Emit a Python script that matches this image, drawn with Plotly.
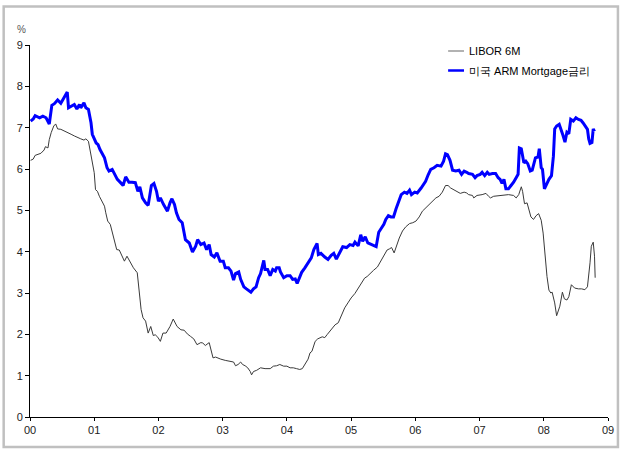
import plotly.graph_objects as go

# Time axis in decimal years
arm_t = [
    2000.01, 2000.05, 2000.08, 2000.15, 2000.20, 2000.25, 2000.30, 2000.34, 2000.38, 2000.43,
    2000.48, 2000.53, 2000.58, 2000.60, 2000.64, 2000.69, 2000.73, 2000.77, 2000.79, 2000.84,
    2000.87, 2000.91, 2000.95, 2000.97, 2001.03, 2001.06, 2001.09, 2001.13, 2001.16, 2001.20,
    2001.23, 2001.28, 2001.32, 2001.36, 2001.41, 2001.45, 2001.49, 2001.54, 2001.59, 2001.64,
    2001.68, 2001.71, 2001.75, 2001.80, 2001.84, 2001.89, 2001.93, 2001.97, 2002.00, 2002.03,
    2002.08, 2002.14, 2002.18, 2002.21, 2002.25, 2002.28, 2002.32, 2002.37, 2002.42, 2002.48,
    2002.53, 2002.58, 2002.61, 2002.66, 2002.71, 2002.75, 2002.79, 2002.82, 2002.87, 2002.91,
    2002.96, 2003.01, 2003.04, 2003.09, 2003.13, 2003.17, 2003.20, 2003.25, 2003.28, 2003.33,
    2003.37, 2003.40, 2003.44, 2003.48, 2003.52, 2003.56, 2003.59, 2003.64, 2003.66, 2003.70,
    2003.74, 2003.78, 2003.82, 2003.84, 2003.88, 2003.90, 2003.95, 2004.00, 2004.05, 2004.09,
    2004.13, 2004.16, 2004.19, 2004.23, 2004.28, 2004.33, 2004.38, 2004.42, 2004.47, 2004.49,
    2004.53, 2004.59, 2004.64, 2004.69, 2004.73, 2004.77, 2004.82, 2004.87, 2004.93, 2004.98,
    2005.03, 2005.06, 2005.11, 2005.15, 2005.18, 2005.22, 2005.26, 2005.31, 2005.35, 2005.39,
    2005.43, 2005.47, 2005.51, 2005.54, 2005.58, 2005.62, 2005.66, 2005.70, 2005.74, 2005.78,
    2005.83, 2005.87, 2005.91, 2005.94, 2005.99, 2006.03, 2006.09, 2006.13, 2006.16, 2006.20,
    2006.24, 2006.29, 2006.34, 2006.40, 2006.44, 2006.47, 2006.50, 2006.54, 2006.58, 2006.63,
    2006.68, 2006.72, 2006.76, 2006.80, 2006.83, 2006.89, 2006.93, 2006.96, 2007.01, 2007.04,
    2007.08, 2007.12, 2007.15, 2007.20, 2007.25, 2007.29, 2007.32, 2007.35, 2007.38, 2007.41,
    2007.45, 2007.49, 2007.53, 2007.57, 2007.60, 2007.62, 2007.65, 2007.69, 2007.72, 2007.75,
    2007.79, 2007.82, 2007.87, 2007.91, 2007.93, 2007.96, 2007.98, 2008.01, 2008.05, 2008.08,
    2008.12, 2008.15, 2008.17, 2008.20, 2008.24, 2008.27, 2008.30, 2008.33, 2008.36, 2008.39,
    2008.42, 2008.46, 2008.50, 2008.54, 2008.58, 2008.61, 2008.65, 2008.68, 2008.70, 2008.72,
    2008.75, 2008.77, 2008.79,
]
# US ARM mortgage rate (%)
arm_rate = [
    7.16, 7.21, 7.29, 7.24, 7.28, 7.24, 7.09, 7.54, 7.58, 7.67,
    7.59, 7.72, 7.86, 7.48, 7.52, 7.56, 7.45, 7.56, 7.48, 7.60,
    7.48, 7.44, 7.12, 6.84, 6.63, 6.59, 6.47, 6.35, 6.27, 6.03,
    5.95, 5.99, 5.87, 5.75, 5.67, 5.60, 5.81, 5.68, 5.68, 5.67,
    5.46, 5.57, 5.30, 5.18, 5.12, 5.60, 5.65, 5.46, 5.22, 5.30,
    5.14, 4.98, 5.18, 5.28, 5.14, 4.94, 4.78, 4.70, 4.29, 4.21,
    3.99, 4.13, 4.29, 4.17, 4.21, 4.05, 4.17, 3.93, 3.87, 3.97,
    3.77, 3.77, 3.61, 3.61, 3.53, 3.31, 3.47, 3.51, 3.33, 3.15,
    3.10, 3.07, 3.02, 3.10, 3.15, 3.37, 3.47, 3.79, 3.57, 3.57,
    3.42, 3.57, 3.53, 3.61, 3.61, 3.51, 3.37, 3.42, 3.42, 3.33,
    3.34, 3.23, 3.33, 3.50, 3.61, 3.73, 3.85, 4.05, 4.20, 3.93,
    3.96, 3.87, 3.81, 3.91, 3.96, 3.82, 3.99, 4.12, 4.10, 4.17,
    4.15, 4.23, 4.14, 4.41, 4.25, 4.36, 4.21, 4.17, 4.14, 4.12,
    4.47, 4.57, 4.66, 4.78, 4.87, 4.84, 4.84, 5.04, 5.20, 5.38,
    5.44, 5.41, 5.49, 5.38, 5.44, 5.42, 5.54, 5.65, 5.70, 5.86,
    5.99, 6.03, 6.09, 6.07, 6.19, 6.37, 6.35, 6.21, 5.97, 5.95,
    5.97, 5.87, 5.95, 5.92, 5.89, 5.87, 5.79, 5.84, 5.87, 5.92,
    5.84, 5.92, 5.87, 5.89, 5.89, 5.79, 5.75, 5.65, 5.75, 5.52,
    5.52, 5.60, 5.68, 5.79, 5.87, 6.51, 6.49, 6.15, 6.19, 6.13,
    5.95, 5.97, 6.27, 6.29, 6.49, 6.03, 5.99, 5.52, 5.68, 5.75,
    5.84, 6.31, 6.97, 7.04, 7.08, 6.96, 6.81, 6.65, 6.89, 6.85,
    7.20, 7.16, 7.24, 7.20, 7.18, 7.12, 7.04, 6.96, 6.73, 6.62,
    6.64, 6.97, 6.91,
]

libor_t = [
    2000.01, 2000.05, 2000.08, 2000.13, 2000.17, 2000.22, 2000.24, 2000.28, 2000.30, 2000.33,
    2000.37, 2000.40, 2000.43, 2000.48, 2000.54, 2000.59, 2000.64, 2000.69, 2000.74, 2000.79,
    2000.84, 2000.87, 2000.91, 2000.94, 2000.97, 2001.00, 2001.02, 2001.05, 2001.08, 2001.11,
    2001.16, 2001.18, 2001.21, 2001.25, 2001.28, 2001.32, 2001.35, 2001.39, 2001.42, 2001.47,
    2001.51, 2001.56, 2001.61, 2001.67, 2001.70, 2001.73, 2001.76, 2001.80, 2001.84, 2001.88,
    2001.92, 2001.95, 2001.99, 2002.03, 2002.07, 2002.12, 2002.18, 2002.23, 2002.29, 2002.35,
    2002.40, 2002.45, 2002.50, 2002.55, 2002.60, 2002.66, 2002.69, 2002.73, 2002.79, 2002.83,
    2002.85, 2002.89, 2002.94, 2002.97, 2003.04, 2003.12, 2003.17, 2003.20, 2003.24, 2003.28,
    2003.31, 2003.35, 2003.39, 2003.43, 2003.45, 2003.48, 2003.53, 2003.59, 2003.66, 2003.74,
    2003.79, 2003.84, 2003.89, 2003.95, 2004.00, 2004.05, 2004.10, 2004.15, 2004.20, 2004.24,
    2004.28, 2004.33, 2004.36, 2004.39, 2004.44, 2004.48, 2004.55, 2004.59, 2004.63, 2004.67,
    2004.69, 2004.75, 2004.80, 2004.85, 2004.90, 2004.95, 2005.00, 2005.06, 2005.11, 2005.16,
    2005.21, 2005.25, 2005.30, 2005.35, 2005.41, 2005.46, 2005.51, 2005.56, 2005.60, 2005.63,
    2005.67, 2005.71, 2005.75, 2005.80, 2005.85, 2005.91, 2005.96, 2006.01, 2006.06, 2006.11,
    2006.16, 2006.22, 2006.27, 2006.32, 2006.37, 2006.42, 2006.47, 2006.51, 2006.55, 2006.60,
    2006.65, 2006.70, 2006.76, 2006.80, 2006.83, 2006.89, 2006.91, 2006.96, 2007.04, 2007.10,
    2007.14, 2007.17, 2007.22, 2007.30, 2007.38, 2007.45, 2007.53, 2007.57, 2007.61, 2007.65,
    2007.67, 2007.70, 2007.74, 2007.76, 2007.80, 2007.84, 2007.88, 2007.92, 2007.96, 2007.99,
    2008.02, 2008.05, 2008.08, 2008.11, 2008.13, 2008.17, 2008.20, 2008.23, 2008.25, 2008.29,
    2008.32, 2008.36, 2008.39, 2008.43, 2008.48, 2008.54, 2008.59, 2008.64, 2008.68, 2008.72,
    2008.74, 2008.77, 2008.79, 2008.80,
]
# 6-month LIBOR (%)
libor_rate = [
    6.21, 6.24, 6.33, 6.35, 6.38, 6.46, 6.54, 6.51, 6.71, 6.88,
    7.04, 7.09, 6.97, 6.96, 6.92, 6.88, 6.84, 6.80, 6.76, 6.73,
    6.70, 6.73, 6.67, 6.43, 6.19, 5.91, 5.50, 5.46, 5.34, 5.24,
    5.10, 4.94, 4.74, 4.66, 4.49, 4.25, 4.05, 4.04, 3.93, 3.77,
    3.89, 3.73, 3.61, 3.49, 3.08, 2.60, 2.40, 2.32, 2.03, 2.19,
    1.97, 1.99, 1.93, 1.83, 2.03, 2.03, 2.19, 2.37, 2.19, 2.11,
    2.10, 2.01, 1.95, 1.89, 1.75, 1.80, 1.79, 1.73, 1.80, 1.59,
    1.43, 1.45, 1.43, 1.40, 1.37, 1.35, 1.33, 1.24, 1.27, 1.33,
    1.27, 1.24, 1.19, 1.10, 1.02, 1.10, 1.13, 1.19, 1.17, 1.17,
    1.23, 1.24, 1.27, 1.23, 1.23, 1.19, 1.19, 1.17, 1.15, 1.17,
    1.27, 1.40, 1.55, 1.59, 1.83, 1.89, 1.94, 1.92, 2.00, 2.07,
    2.11, 2.23, 2.28, 2.48, 2.64, 2.76, 2.88, 2.99, 3.12, 3.24,
    3.36, 3.40, 3.48, 3.55, 3.63, 3.77, 3.91, 4.04, 4.07, 4.10,
    3.97, 4.18, 4.33, 4.50, 4.60, 4.68, 4.70, 4.74, 4.84, 4.98,
    5.06, 5.14, 5.24, 5.30, 5.34, 5.44, 5.60, 5.60, 5.54, 5.49,
    5.44, 5.41, 5.44, 5.42, 5.38, 5.36, 5.30, 5.36, 5.38, 5.41,
    5.34, 5.30, 5.34, 5.36, 5.38, 5.38, 5.36, 5.30, 5.38, 5.57,
    5.46, 5.16, 5.18, 5.06, 4.84, 4.78, 4.87, 4.92, 4.76, 4.45,
    3.89, 3.40, 3.07, 3.00, 3.02, 2.76, 2.45, 2.61, 2.68, 3.02,
    2.86, 2.83, 2.91, 3.20, 3.12, 3.10, 3.10, 3.08, 3.15, 3.73,
    4.13, 4.23, 3.89, 3.37,
]

year_ticks = list(range(2000, 2010))
year_labels = ["00", "01", "02", "03", "04", "05", "06", "07", "08", "09"]
y_ticks = list(range(0, 10))

series_names = ["LIBOR 6M", "미국 ARM Mortgage금리"]
libor_color = "#3a3a3a"
arm_color = "#0000ff"

FONT = "Liberation Sans, Arial, sans-serif"

fig = go.Figure()
fig.add_trace(go.Scatter(x=libor_t, y=libor_rate, mode="lines", name=series_names[0],
                         line=dict(color=libor_color, width=1)))
fig.add_trace(go.Scatter(x=arm_t, y=arm_rate, mode="lines", name=series_names[1],
                         line=dict(color=arm_color, width=3)))

W, H = 626, 451
ml, mr, mt, mb = 30, 14, 45, 34
pw, ph = W - ml - mr, H - mt - mb


def px_x(px):
    return (px - ml) / pw


def px_y(py):
    return (H - mb - py) / ph


shapes = [
    # outer frame
    dict(type="rect", xref="paper", yref="paper",
         x0=px_x(3.5), x1=px_x(622), y0=px_y(447), y1=px_y(6.5),
         line=dict(color="#c0c0c0", width=2.5), fillcolor="rgba(0,0,0,0)", layer="below"),
    # legend samples
    dict(type="line", xref="paper", yref="paper",
         x0=px_x(451), x1=px_x(467), y0=px_y(51), y1=px_y(51),
         line=dict(color="#999999", width=1.5)),
    dict(type="line", xref="paper", yref="paper",
         x0=px_x(451), x1=px_x(467), y0=px_y(70.5), y1=px_y(70.5),
         line=dict(color=arm_color, width=2.5)),
]

annotations = [
    dict(text="%", xref="paper", yref="paper", x=px_x(21), y=px_y(29),
         showarrow=False, xanchor="center", yanchor="middle",
         font=dict(family=FONT, size=10, color="#555555")),
    dict(text=series_names[0], xref="paper", yref="paper", x=px_x(470), y=px_y(51),
         showarrow=False, xanchor="left", yanchor="middle",
         font=dict(family=FONT, size=11, color="#000000")),
    dict(text=series_names[1], xref="paper", yref="paper", x=px_x(470), y=px_y(71),
         showarrow=False, xanchor="left", yanchor="middle",
         font=dict(family=FONT, size=11, color="#000000")),
]

fig.update_layout(
    width=W, height=H,
    margin=dict(l=ml, r=mr, t=mt, b=mb, pad=0),
    paper_bgcolor="white", plot_bgcolor="white",
    showlegend=False,
    font=dict(family=FONT, size=11, color="#222222"),
    shapes=shapes, annotations=annotations,
    xaxis=dict(range=[2000, 2009], tickmode="array", tickvals=year_ticks, ticktext=year_labels,
               showgrid=False, zeroline=False, showline=True, linecolor="black", linewidth=1,
               ticks="outside", ticklen=3, tickcolor="black",
               tickfont=dict(family=FONT, size=11, color="#222222")),
    yaxis=dict(range=[0, 9], tickmode="array", tickvals=y_ticks,
               showgrid=False, zeroline=False, showline=True, linecolor="black", linewidth=1,
               ticks="outside", ticklen=4, tickcolor="black",
               tickfont=dict(family=FONT, size=11, color="#222222")),
)

fig.write_html("out.html")
